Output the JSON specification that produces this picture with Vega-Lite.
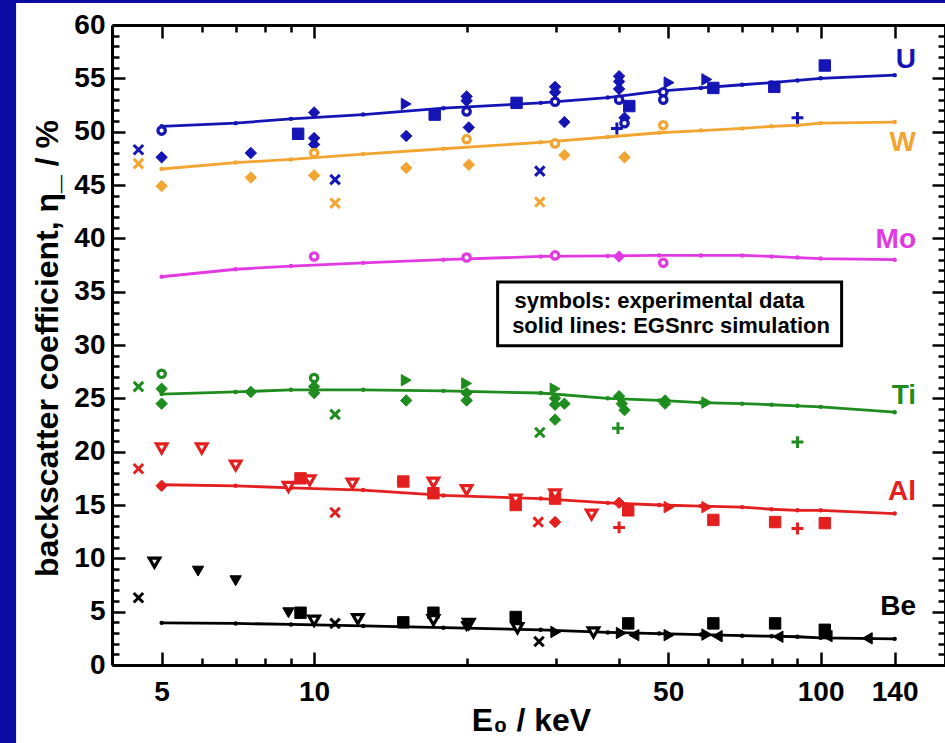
{
  "$schema": "https://vega.github.io/schema/vega-lite/v6.json",
  "width": 833,
  "height": 640,
  "autosize": "none",
  "padding": {"left": 112, "top": 25, "right": 0, "bottom": 78},
  "background": "#0b0ba3",
  "config": {"view": {"stroke": null}, "font": "Liberation Sans"},
  "datasets": {
    "one": [{"k": 1}],
    "sim": [
      {"E":5,"v":50.5,"el":"U"},{"E":7,"v":50.8,"el":"U"},{"E":9,"v":51.2,"el":"U"},{"E":12.5,"v":51.6,"el":"U"},{"E":18,"v":52.2,"el":"U"},{"E":28,"v":52.7,"el":"U"},{"E":38,"v":53.2,"el":"U"},{"E":48,"v":53.8,"el":"U"},{"E":58,"v":54.1,"el":"U"},{"E":70,"v":54.4,"el":"U"},{"E":80,"v":54.6,"el":"U"},{"E":90,"v":54.8,"el":"U"},{"E":100,"v":55.0,"el":"U"},{"E":140,"v":55.3,"el":"U"},
      {"E":5,"v":46.5,"el":"W"},{"E":7,"v":47.1,"el":"W"},{"E":9,"v":47.4,"el":"W"},{"E":12.5,"v":47.9,"el":"W"},{"E":18,"v":48.4,"el":"W"},{"E":28,"v":49.0,"el":"W"},{"E":38,"v":49.5,"el":"W"},{"E":48,"v":49.9,"el":"W"},{"E":58,"v":50.1,"el":"W"},{"E":70,"v":50.3,"el":"W"},{"E":80,"v":50.5,"el":"W"},{"E":90,"v":50.6,"el":"W"},{"E":100,"v":50.8,"el":"W"},{"E":140,"v":50.9,"el":"W"},
      {"E":5,"v":36.4,"el":"Mo"},{"E":7,"v":37.1,"el":"Mo"},{"E":9,"v":37.4,"el":"Mo"},{"E":12.5,"v":37.7,"el":"Mo"},{"E":18,"v":38.0,"el":"Mo"},{"E":28,"v":38.3,"el":"Mo"},{"E":38,"v":38.35,"el":"Mo"},{"E":48,"v":38.4,"el":"Mo"},{"E":58,"v":38.4,"el":"Mo"},{"E":70,"v":38.4,"el":"Mo"},{"E":80,"v":38.3,"el":"Mo"},{"E":90,"v":38.2,"el":"Mo"},{"E":100,"v":38.1,"el":"Mo"},{"E":140,"v":38.0,"el":"Mo"},
      {"E":5,"v":25.4,"el":"Ti"},{"E":7,"v":25.6,"el":"Ti"},{"E":9,"v":25.8,"el":"Ti"},{"E":12.5,"v":25.8,"el":"Ti"},{"E":18,"v":25.7,"el":"Ti"},{"E":28,"v":25.5,"el":"Ti"},{"E":38,"v":25.0,"el":"Ti"},{"E":48,"v":24.8,"el":"Ti"},{"E":58,"v":24.6,"el":"Ti"},{"E":70,"v":24.5,"el":"Ti"},{"E":80,"v":24.4,"el":"Ti"},{"E":90,"v":24.3,"el":"Ti"},{"E":100,"v":24.2,"el":"Ti"},{"E":140,"v":23.7,"el":"Ti"},
      {"E":5,"v":16.9,"el":"Al"},{"E":7,"v":16.8,"el":"Al"},{"E":9,"v":16.6,"el":"Al"},{"E":12.5,"v":16.4,"el":"Al"},{"E":18,"v":15.9,"el":"Al"},{"E":28,"v":15.6,"el":"Al"},{"E":38,"v":15.2,"el":"Al"},{"E":48,"v":15.0,"el":"Al"},{"E":58,"v":14.9,"el":"Al"},{"E":70,"v":14.8,"el":"Al"},{"E":80,"v":14.6,"el":"Al"},{"E":90,"v":14.5,"el":"Al"},{"E":100,"v":14.5,"el":"Al"},{"E":140,"v":14.2,"el":"Al"},
      {"E":5,"v":3.95,"el":"Be"},{"E":7,"v":3.9,"el":"Be"},{"E":9,"v":3.8,"el":"Be"},{"E":12.5,"v":3.66,"el":"Be"},{"E":18,"v":3.5,"el":"Be"},{"E":28,"v":3.3,"el":"Be"},{"E":38,"v":3.05,"el":"Be"},{"E":48,"v":2.95,"el":"Be"},{"E":58,"v":2.85,"el":"Be"},{"E":70,"v":2.75,"el":"Be"},{"E":80,"v":2.7,"el":"Be"},{"E":90,"v":2.65,"el":"Be"},{"E":100,"v":2.55,"el":"Be"},{"E":140,"v":2.45,"el":"Be"}
    ],
    "exp": [
      {"E":4.5,"v":48.3,"el":"U","s":"xc"},{"E":5,"v":50.1,"el":"U","s":"oc"},{"E":5,"v":47.6,"el":"U","s":"dm"},{"E":7.5,"v":48.0,"el":"U","s":"dm"},{"E":9.3,"v":49.8,"el":"U","s":"sq"},{"E":10,"v":51.8,"el":"U","s":"dm"},{"E":10,"v":49.4,"el":"U","s":"dm"},{"E":10,"v":48.8,"el":"U","s":"dm"},{"E":11,"v":45.5,"el":"U","s":"xc"},{"E":15.2,"v":52.6,"el":"U","s":"tr"},{"E":15.2,"v":49.6,"el":"U","s":"dm"},{"E":17.3,"v":51.6,"el":"U","s":"sq"},{"E":20,"v":53.3,"el":"U","s":"dm"},{"E":20,"v":52.9,"el":"U","s":"dm"},{"E":20,"v":51.9,"el":"U","s":"oc"},{"E":20.2,"v":50.4,"el":"U","s":"dm"},{"E":25.1,"v":52.7,"el":"U","s":"sq"},{"E":27.9,"v":46.3,"el":"U","s":"xc"},{"E":29.9,"v":54.2,"el":"U","s":"dm"},{"E":29.9,"v":53.7,"el":"U","s":"dm"},{"E":29.9,"v":52.8,"el":"U","s":"oc"},{"E":31.2,"v":50.9,"el":"U","s":"dm"},{"E":40,"v":55.2,"el":"U","s":"dm"},{"E":40,"v":54.7,"el":"U","s":"dm"},{"E":40,"v":54.0,"el":"U","s":"dm"},{"E":40,"v":53.0,"el":"U","s":"oc"},{"E":41,"v":51.3,"el":"U","s":"dm"},{"E":41,"v":50.8,"el":"U","s":"oc"},{"E":39.6,"v":50.3,"el":"U","s":"pl"},{"E":41.9,"v":52.4,"el":"U","s":"sq"},{"E":50.2,"v":54.6,"el":"U","s":"tr"},{"E":48.9,"v":53.7,"el":"U","s":"oc"},{"E":48.9,"v":53.0,"el":"U","s":"oc"},{"E":59.6,"v":54.9,"el":"U","s":"tr"},{"E":61.4,"v":54.1,"el":"U","s":"sq"},{"E":81,"v":54.2,"el":"U","s":"sq"},{"E":90,"v":51.3,"el":"U","s":"pl"},{"E":101.9,"v":56.2,"el":"U","s":"sq"},
      {"E":4.5,"v":47.0,"el":"W","s":"xc"},{"E":5,"v":44.9,"el":"W","s":"dm"},{"E":7.5,"v":45.7,"el":"W","s":"dm"},{"E":10,"v":48.0,"el":"W","s":"oc"},{"E":10,"v":45.9,"el":"W","s":"dm"},{"E":11,"v":43.3,"el":"W","s":"xc"},{"E":15.2,"v":46.6,"el":"W","s":"dm"},{"E":20,"v":49.3,"el":"W","s":"oc"},{"E":20.2,"v":46.9,"el":"W","s":"dm"},{"E":27.9,"v":43.4,"el":"W","s":"xc"},{"E":29.9,"v":48.9,"el":"W","s":"oc"},{"E":31.2,"v":47.8,"el":"W","s":"dm"},{"E":41,"v":47.6,"el":"W","s":"dm"},{"E":48.9,"v":50.6,"el":"W","s":"oc"},
      {"E":10,"v":38.3,"el":"Mo","s":"oc"},{"E":20,"v":38.2,"el":"Mo","s":"oc"},{"E":29.9,"v":38.4,"el":"Mo","s":"oc"},{"E":40,"v":38.3,"el":"Mo","s":"dm"},{"E":48.9,"v":37.7,"el":"Mo","s":"oc"},
      {"E":4.5,"v":26.1,"el":"Ti","s":"xc"},{"E":5,"v":27.3,"el":"Ti","s":"oc"},{"E":5,"v":25.9,"el":"Ti","s":"dm"},{"E":5,"v":24.5,"el":"Ti","s":"dm"},{"E":7.5,"v":25.6,"el":"Ti","s":"dm"},{"E":10,"v":26.9,"el":"Ti","s":"oc"},{"E":10,"v":26.1,"el":"Ti","s":"dm"},{"E":10,"v":25.5,"el":"Ti","s":"dm"},{"E":11,"v":23.5,"el":"Ti","s":"xc"},{"E":15.2,"v":26.7,"el":"Ti","s":"tr"},{"E":15.2,"v":24.8,"el":"Ti","s":"dm"},{"E":20,"v":26.4,"el":"Ti","s":"tr"},{"E":20,"v":25.5,"el":"Ti","s":"dm"},{"E":20,"v":24.8,"el":"Ti","s":"dm"},{"E":27.9,"v":21.8,"el":"Ti","s":"xc"},{"E":29.9,"v":25.9,"el":"Ti","s":"tr"},{"E":29.9,"v":25.0,"el":"Ti","s":"dm"},{"E":29.9,"v":24.4,"el":"Ti","s":"dm"},{"E":29.9,"v":23.0,"el":"Ti","s":"dm"},{"E":31.2,"v":24.5,"el":"Ti","s":"dm"},{"E":40,"v":25.2,"el":"Ti","s":"dm"},{"E":39.8,"v":22.2,"el":"Ti","s":"pl"},{"E":40.5,"v":24.5,"el":"Ti","s":"dm"},{"E":41,"v":23.9,"el":"Ti","s":"dm"},{"E":49.3,"v":24.5,"el":"Ti","s":"dm"},{"E":49.3,"v":24.8,"el":"Ti","s":"dm"},{"E":59.6,"v":24.6,"el":"Ti","s":"tr"},{"E":90,"v":20.9,"el":"Ti","s":"pl"},
      {"E":4.5,"v":18.4,"el":"Al","s":"xc"},{"E":5,"v":20.3,"el":"Al","s":"otd"},{"E":5,"v":16.8,"el":"Al","s":"dm"},{"E":6,"v":20.3,"el":"Al","s":"otd"},{"E":7,"v":18.7,"el":"Al","s":"otd"},{"E":8.9,"v":16.7,"el":"Al","s":"otd"},{"E":9.4,"v":17.5,"el":"Al","s":"sq"},{"E":9.8,"v":17.3,"el":"Al","s":"otd"},{"E":11,"v":14.3,"el":"Al","s":"xc"},{"E":11.9,"v":17.0,"el":"Al","s":"otd"},{"E":15,"v":17.2,"el":"Al","s":"sq"},{"E":17.2,"v":17.1,"el":"Al","s":"otd"},{"E":17.2,"v":16.1,"el":"Al","s":"sq"},{"E":20,"v":16.4,"el":"Al","s":"otd"},{"E":25,"v":15.0,"el":"Al","s":"sq"},{"E":25,"v":15.5,"el":"Al","s":"otd"},{"E":27.7,"v":13.4,"el":"Al","s":"xc"},{"E":29.9,"v":13.4,"el":"Al","s":"dm"},{"E":29.9,"v":15.6,"el":"Al","s":"sq"},{"E":29.9,"v":16.0,"el":"Al","s":"otd"},{"E":35.3,"v":14.1,"el":"Al","s":"otd"},{"E":40,"v":15.2,"el":"Al","s":"dm"},{"E":40,"v":12.9,"el":"Al","s":"pl"},{"E":41.7,"v":14.5,"el":"Al","s":"sq"},{"E":50.2,"v":14.8,"el":"Al","s":"tr"},{"E":59.6,"v":14.8,"el":"Al","s":"tr"},{"E":61.4,"v":13.6,"el":"Al","s":"sq"},{"E":81.3,"v":13.4,"el":"Al","s":"sq"},{"E":90,"v":12.8,"el":"Al","s":"pl"},{"E":101.9,"v":13.3,"el":"Al","s":"sq"},
      {"E":4.5,"v":6.3,"el":"Be","s":"xc"},{"E":4.84,"v":9.6,"el":"Be","s":"otd"},{"E":5.9,"v":8.8,"el":"Be","s":"td"},{"E":7.0,"v":7.9,"el":"Be","s":"td"},{"E":8.9,"v":4.9,"el":"Be","s":"td"},{"E":9.4,"v":4.9,"el":"Be","s":"sq"},{"E":10,"v":4.15,"el":"Be","s":"otd"},{"E":11,"v":3.9,"el":"Be","s":"xc"},{"E":12.2,"v":4.3,"el":"Be","s":"otd"},{"E":15,"v":4.0,"el":"Be","s":"sq"},{"E":17.2,"v":4.9,"el":"Be","s":"sq"},{"E":17.2,"v":4.2,"el":"Be","s":"otd"},{"E":20.2,"v":3.85,"el":"Be","s":"otd"},{"E":20,"v":3.6,"el":"Be","s":"td"},{"E":25,"v":4.5,"el":"Be","s":"sq"},{"E":25.2,"v":3.45,"el":"Be","s":"otd"},{"E":27.8,"v":2.2,"el":"Be","s":"xc"},{"E":30,"v":3.1,"el":"Be","s":"tr"},{"E":35.6,"v":3.05,"el":"Be","s":"otd"},{"E":41.7,"v":3.9,"el":"Be","s":"sq"},{"E":40.4,"v":3.0,"el":"Be","s":"tr"},{"E":42.8,"v":2.8,"el":"Be","s":"tl"},{"E":50.2,"v":2.8,"el":"Be","s":"tr"},{"E":59.6,"v":2.85,"el":"Be","s":"tr"},{"E":61.4,"v":3.9,"el":"Be","s":"sq"},{"E":62.5,"v":2.7,"el":"Be","s":"tl"},{"E":81.3,"v":3.9,"el":"Be","s":"sq"},{"E":82.4,"v":2.65,"el":"Be","s":"tl"},{"E":101.9,"v":3.3,"el":"Be","s":"sq"},{"E":103,"v":2.7,"el":"Be","s":"tl"},{"E":123.6,"v":2.5,"el":"Be","s":"tl"}
    ],
    "labels": [
      {"E":154.3,"v":56.7,"el":"U"},{"E":154.3,"v":48.9,"el":"W"},{"E":154.3,"v":39.8,"el":"Mo"},{"E":154.3,"v":25.2,"el":"Ti"},{"E":154.3,"v":16.2,"el":"Al"},{"E":154.3,"v":5.4,"el":"Be"}
    ]
  },
  "resolve": {"axis": {"x": "independent", "y": "independent"}},
  "layer": [
    {
      "data": {"name": "one"},
      "mark": {"type": "rect", "fill": "white", "clip": false},
      "encoding": {
        "x": {"datum": 2.58, "type": "quantitative", "scale": {"type": "log", "domain": [3.99, 176], "nice": false}, "axis": null},
        "x2": {"datum": 1000},
        "y": {"datum": 62.06, "type": "quantitative", "scale": {"domain": [0, 60], "nice": false}, "axis": null},
        "y2": {"datum": -10}
      }
    },
    {
      "data": {"name": "sim"},
      "mark": {"type": "line", "strokeWidth": 2.8, "point": {"filled": true, "size": 20, "opacity": 1}},
      "encoding": {
        "x": {"field": "E", "type": "quantitative", "scale": {"type": "log", "domain": [3.99, 176], "nice": false},
          "axis": {"orient": "bottom", "zindex": 1, "grid": false,
            "values": [5,6,7,8,9,10,20,30,40,50,60,70,80,90,100,140],
            "labelExpr": "indexof([5,10,50,100,140], datum.value) >= 0 ? '' + datum.value : ''",
            "tickSize": {"condition": {"test": "indexof([5,10,50,100,140], datum.value) >= 0", "value": -13}, "value": -7},
            "tickWidth": 2.5, "tickColor": "black", "domainColor": "black", "domainWidth": 3,
            "labelFont": "Liberation Sans", "labelFontWeight": "bold", "labelFontSize": 28, "labelColor": "black",
            "labelPadding": 26, "labelOverlap": false, "labelFlush": false, "labelBound": false,
            "title": "E₀ / keV", "titleFont": "Liberation Sans", "titleFontWeight": "bold", "titleFontSize": 32, "titleColor": "black",
            "titleX": 419, "titleY": 65, "titleBaseline": "alphabetic", "titleAlign": "center", "titleAngle": 0}},
        "y": {"field": "v", "type": "quantitative", "scale": {"domain": [0, 60], "nice": false},
          "axis": {"orient": "left", "zindex": 1, "grid": false,
            "values": [0,1,2,3,4,5,6,7,8,9,10,11,12,13,14,15,16,17,18,19,20,21,22,23,24,25,26,27,28,29,30,31,32,33,34,35,36,37,38,39,40,41,42,43,44,45,46,47,48,49,50,51,52,53,54,55,56,57,58,59,60],
            "labelExpr": "datum.value % 5 === 0 ? '' + datum.value : ''",
            "tickSize": {"condition": {"test": "datum.value % 5 === 0", "value": -13}, "value": -7},
            "tickWidth": 2.5, "tickColor": "black", "domainColor": "black", "domainWidth": 3,
            "labelFont": "Liberation Sans", "labelFontWeight": "bold", "labelFontSize": 28, "labelColor": "black",
            "labelPadding": 20, "labelOverlap": false, "labelFlush": false, "labelBound": false,
            "title": "backscatter coefficient, η_ / %", "titleFont": "Liberation Sans", "titleFontWeight": "bold", "titleFontSize": 32, "titleColor": "black",
            "titleX": -55, "titleY": 323, "titleBaseline": "alphabetic", "titleAlign": "center", "titleAngle": -90}},
        "color": {"field": "el", "type": "nominal", "legend": null,
          "scale": {"domain": ["U","W","Mo","Ti","Al","Be"], "range": ["#1515b5","#f2a531","#e23ae2","#1e8c1e","#e3201f","#000000"]}}
      }
    },
    {
      "data": {"name": "exp"},
      "mark": {"type": "point", "opacity": 1, "filled": true},
      "encoding": {
        "x": {"field": "E", "type": "quantitative", "scale": {"type": "log", "domain": [3.99, 176], "nice": false},
          "axis": {"orient": "top", "zindex": 1, "grid": false, "labels": false, "title": null,
            "values": [5,6,7,8,9,10,20,30,40,50,60,70,80,90,100,140],
            "tickSize": {"condition": {"test": "indexof([5,10,50,100,140], datum.value) >= 0", "value": -13}, "value": -7},
            "tickWidth": 2.5, "tickColor": "black", "domainColor": "black", "domainWidth": 3}},
        "y": {"field": "v", "type": "quantitative", "scale": {"domain": [0, 60], "nice": false},
          "axis": {"orient": "right", "zindex": 1, "grid": false, "labels": false, "title": null,
            "values": [0,1,2,3,4,5,6,7,8,9,10,11,12,13,14,15,16,17,18,19,20,21,22,23,24,25,26,27,28,29,30,31,32,33,34,35,36,37,38,39,40,41,42,43,44,45,46,47,48,49,50,51,52,53,54,55,56,57,58,59,60],
            "tickSize": {"condition": {"test": "datum.value % 5 === 0", "value": -13}, "value": -7},
            "tickWidth": 2.5, "tickColor": "black", "domainColor": "black", "domainWidth": 3}},
        "shape": {"field": "s", "type": "nominal", "legend": null,
          "scale": {"domain": ["xc","pl","oc","dm","sq","tr","otd","td","tl"],
            "range": ["M-1,-1L1,1M-1,1L1,-1","M-1,0L1,0M0,-1L0,1","circle","diamond","square","triangle-right","triangle-down","triangle-down","triangle-left"]}},
        "fill": {"condition": [{"test": "datum.s === 'oc' || datum.s === 'otd'", "value": "white"}, {"test": "datum.s === 'xc' || datum.s === 'pl'", "value": "transparent"}],
          "field": "el", "type": "nominal", "legend": null,
          "scale": {"domain": ["U","W","Mo","Ti","Al","Be"], "range": ["#1515b5","#f2a531","#e23ae2","#1e8c1e","#e3201f","#000000"]}},
        "stroke": {"field": "el", "type": "nominal", "legend": null,
          "scale": {"domain": ["U","W","Mo","Ti","Al","Be"], "range": ["#1515b5","#f2a531","#e23ae2","#1e8c1e","#e3201f","#000000"]}},
        "strokeWidth": {"condition": [{"test": "datum.s === 'oc' || datum.s === 'otd'", "value": 3.2}, {"test": "datum.s === 'xc' || datum.s === 'pl'", "value": 3}], "value": 1},
        "size": {"condition": [{"test": "datum.s === 'pl'", "value": 140}, {"test": "datum.s === 'oc'", "value": 55}, {"test": "datum.s === 'xc'", "value": 90}, {"test": "datum.s === 'otd'", "value": 110}], "value": 130}
      }
    },
    {
      "data": {"name": "labels"},
      "mark": {"type": "text", "font": "Liberation Sans", "fontWeight": "bold", "fontSize": 28, "align": "right", "baseline": "middle"},
      "encoding": {
        "x": {"field": "E", "type": "quantitative", "scale": {"type": "log", "domain": [3.99, 176], "nice": false}, "axis": null},
        "y": {"field": "v", "type": "quantitative", "scale": {"domain": [0, 60], "nice": false}, "axis": null},
        "text": {"field": "el"},
        "color": {"field": "el", "type": "nominal", "legend": null,
          "scale": {"domain": ["U","W","Mo","Ti","Al","Be"], "range": ["#1515b5","#f2a531","#e23ae2","#1e8c1e","#e3201f","#000000"]}}
      }
    },
    {
      "data": {"name": "one"},
      "mark": {"type": "rect", "fill": "white", "stroke": "black", "strokeWidth": 3},
      "encoding": {
        "x": {"datum": 23.03, "type": "quantitative", "scale": {"type": "log", "domain": [3.99, 176], "nice": false}, "axis": null},
        "x2": {"datum": 110},
        "y": {"datum": 35.9, "type": "quantitative", "scale": {"domain": [0, 60], "nice": false}, "axis": null},
        "y2": {"datum": 29.93}
      }
    },
    {
      "data": {"name": "one"},
      "mark": {"type": "text", "font": "Liberation Sans", "fontWeight": "bold", "fontSize": 22, "align": "left", "baseline": "alphabetic", "color": "black"},
      "encoding": {
        "x": {"datum": 24.86, "type": "quantitative", "scale": {"type": "log", "domain": [3.99, 176], "nice": false}, "axis": null},
        "y": {"datum": 33.47, "type": "quantitative", "scale": {"domain": [0, 60], "nice": false}, "axis": null},
        "text": {"value": "symbols: experimental data"}
      }
    },
    {
      "data": {"name": "one"},
      "mark": {"type": "text", "font": "Liberation Sans", "fontWeight": "bold", "fontSize": 22, "align": "left", "baseline": "alphabetic", "color": "black"},
      "encoding": {
        "x": {"datum": 24.6, "type": "quantitative", "scale": {"type": "log", "domain": [3.99, 176], "nice": false}, "axis": null},
        "y": {"datum": 31.1, "type": "quantitative", "scale": {"domain": [0, 60], "nice": false}, "axis": null},
        "text": {"value": "solid lines: EGSnrc simulation"}
      }
    }
  ]
}
